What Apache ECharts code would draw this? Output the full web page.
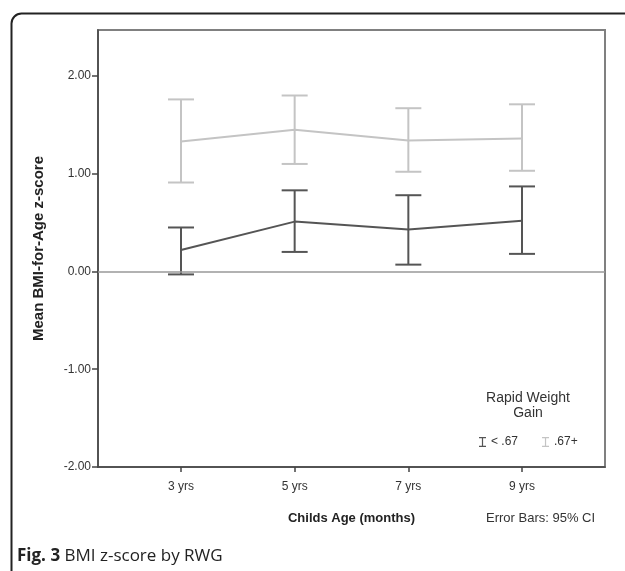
<!DOCTYPE html>
<html>
<head>
<meta charset="utf-8">
<script src="https://cdn.jsdelivr.net/npm/echarts@6/dist/echarts.min.js"></script>
<style>
  html, body { margin: 0; padding: 0; background: #fff; }
  #chart { width: 625px; height: 571px; }
</style>
</head>
<body>
<div id="chart"></div>
<script>
const categories = ['3 yrs', '5 yrs', '7 yrs', '9 yrs']
const yTicks = [-2, -1, 0, 1, 2]

// RWG < .67
const lowMean = [0.22, 0.51, 0.43, 0.52]
const lowLower = [-0.03, 0.20, 0.07, 0.18]
const lowUpper = [0.45, 0.83, 0.78, 0.87]

// RWG .67+
const highMean = [1.33, 1.45, 1.34, 1.36]
const highLower = [0.91, 1.10, 1.02, 1.03]
const highUpper = [1.76, 1.80, 1.67, 1.71]

const darkColor = '#555555'
const lightColor = '#c4c4c4'
const font = '"Liberation Sans", Arial, sans-serif'

function errorBars(name, color, lower, upper) {
  return {
    type: 'custom',
    name: name,
    silent: true,
    z: 3,
    data: lower.map((lo, i) => [i, lo, upper[i]]),
    encode: { x: 0, y: [1, 2] },
    renderItem: (params, api) => {
      const lo = api.coord([api.value(0), api.value(1)])
      const hi = api.coord([api.value(0), api.value(2)])
      const hw = 13
      const style = { stroke: color, lineWidth: 2 }
      return {
        type: 'group',
        children: [
          { type: 'line', shape: { x1: lo[0], y1: lo[1], x2: hi[0], y2: hi[1] }, style },
          { type: 'line', shape: { x1: lo[0] - hw, y1: lo[1], x2: lo[0] + hw, y2: lo[1] }, style },
          { type: 'line', shape: { x1: hi[0] - hw, y1: hi[1], x2: hi[0] + hw, y2: hi[1] }, style }
        ]
      }
    }
  }
}

const iconPath = 'path://M0,0h7v1.2h-2.9v7.6h2.9v1.2h-7v-1.2h2.9v-7.6h-2.9z'

const chart = echarts.init(document.getElementById('chart'))
chart.setOption({
  animation: false,
  grid: { left: 98, right: 20, top: 30, bottom: 104, show: true, borderColor: '#808080', borderWidth: 2 },
  xAxis: {
    type: 'value',
    min: -0.73,
    max: 3.73,
    splitLine: { show: false },
    axisLine: { onZero: false, lineStyle: { color: '#444', width: 1.5 } },
    axisTick: { customValues: [0, 1, 2, 3], length: 5, lineStyle: { color: '#444', width: 1.5 } },
    axisLabel: {
      customValues: [0, 1, 2, 3],
      formatter: (v) => categories[Math.round(v)],
      color: '#333', fontFamily: font, fontSize: 12, margin: 14
    },
    name: 'Childs Age (months)',
    nameLocation: 'middle',
    nameGap: 45,
    nameTextStyle: { color: '#222', fontFamily: font, fontSize: 13, fontWeight: 'bold' }
  },
  yAxis: {
    type: 'value',
    min: -2,
    max: 2.47,
    splitLine: { show: false },
    axisLine: { show: true, onZero: false, lineStyle: { color: '#444', width: 1.5 } },
    axisTick: { show: true, customValues: yTicks, length: 6, lineStyle: { color: '#444', width: 1.5 } },
    axisLabel: {
      customValues: yTicks,
      formatter: (v) => v.toFixed(2),
      color: '#333', fontFamily: font, fontSize: 12, margin: 7
    },
    name: 'Mean BMI-for-Age z-score',
    nameLocation: 'middle',
    nameGap: 52,
    nameTextStyle: { color: '#222', fontFamily: font, fontSize: 15, fontWeight: 'bold' }
  },
  legend: {
    data: [
      { name: '< .67', icon: iconPath },
      { name: '.67+', icon: iconPath }
    ],
    left: 474,
    top: 431,
    itemWidth: 7,
    itemHeight: 10,
    itemGap: 24,
    textStyle: { color: '#333', fontFamily: font, fontSize: 12 }
  },
  graphic: [
    {
      type: 'rect', left: 9, top: 11, silent: true,
      shape: { width: 640, height: 580, r: [10, 0, 0, 0] },
      style: { fill: 'none', stroke: '#222', lineWidth: 2 }
    },
    {
      type: 'text', silent: true,
      style: { x: 528, y: 391, text: 'Rapid Weight\nGain', align: 'center', fill: '#333', font: '14px ' + font, lineHeight: 15 }
    },
    {
      type: 'text', left: 486, top: 512,
      style: { text: 'Error Bars: 95% CI', fill: '#333', font: '13px ' + font }
    },
    {
      type: 'text', left: 17, top: 548,
      style: {
        text: '{b|Fig. 3} BMI z-score by RWG',
        fill: '#222',
        font: '17px "Open Sans", sans-serif',
        rich: { b: { fontWeight: 'bold', fontSize: 17, fontFamily: '"Open Sans", sans-serif', fill: '#222' } }
      }
    }
  ],
  series: [
    {
      type: 'line',
      name: '< .67',
      color: darkColor,
      data: lowMean.map((v, i) => [i, v]),
      symbol: 'none',
      lineStyle: { width: 2, color: darkColor },
      z: 4,
      markLine: {
        silent: true,
        symbol: 'none',
        label: { show: false },
        lineStyle: { color: '#999', width: 1.5, type: 'solid' },
        data: [{ yAxis: 0 }]
      }
    },
    {
      type: 'line',
      name: '.67+',
      color: lightColor,
      data: highMean.map((v, i) => [i, v]),
      symbol: 'none',
      lineStyle: { width: 2, color: lightColor },
      z: 4
    },
    errorBars('lowErr', darkColor, lowLower, lowUpper),
    errorBars('highErr', lightColor, highLower, highUpper)
  ]
})
</script>
</body>
</html>
